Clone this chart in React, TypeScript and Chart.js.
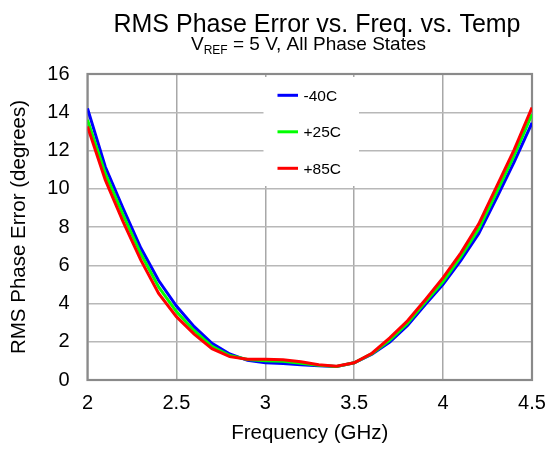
import React, { useEffect, useRef } from "react";
import { Chart, registerables } from "chart.js";

Chart.register(...registerables);

const freqs = [2.0, 2.1, 2.2, 2.3, 2.4, 2.5, 2.6, 2.7, 2.8, 2.9, 3.0, 3.1, 3.2, 3.3, 3.4, 3.5, 3.6, 3.7, 3.8, 3.9, 4.0, 4.1, 4.2, 4.3, 4.4, 4.5];
const minus40 = [14.2, 11.15, 8.98, 6.9, 5.2, 3.87, 2.79, 1.92, 1.36, 1.03, 0.9, 0.86, 0.8, 0.74, 0.7, 0.9, 1.35, 1.98, 2.85, 3.95, 5.0, 6.25, 7.65, 9.5, 11.4, 13.45];
const plus25 = [13.6, 10.8, 8.63, 6.6, 4.87, 3.58, 2.58, 1.76, 1.28, 1.07, 1.0, 0.98, 0.88, 0.77, 0.71, 0.9, 1.38, 2.08, 2.97, 4.08, 5.15, 6.45, 7.9, 9.8, 11.75, 13.9];
const plus85 = [13.25, 10.46, 8.28, 6.27, 4.53, 3.31, 2.4, 1.64, 1.22, 1.08, 1.08, 1.06, 0.95, 0.8, 0.72, 0.9, 1.4, 2.2, 3.1, 4.2, 5.35, 6.65, 8.15, 10.1, 12.05, 14.25];
const seriesLabels = ["-40C", "+25C", "+85C"];
const seriesColors = ["#0000ff", "#00ff00", "#ff0000"];
const xTicks = [2, 2.5, 3, 3.5, 4, 4.5];
const yTicks = [0, 2, 4, 6, 8, 10, 12, 14, 16];

const FONT = '"Liberation Sans", Arial, Helvetica, sans-serif';

const decorPlugin = {
  id: "decor",
  beforeDatasetsDraw(chart: any) {
    const { ctx, chartArea: a } = chart;
    ctx.save();
    ctx.strokeStyle = "#8a8a8a";
    ctx.lineWidth = 2.2;
    ctx.strokeRect(a.left, a.top, a.right - a.left, a.bottom - a.top);
    ctx.restore();
  },
  afterDatasetsDraw(chart: any) {
    const { ctx } = chart;
    ctx.save();
    ctx.fillStyle = "#ffffff";
    ctx.fillRect(263.5, 77, 95.5, 109);
    const ys = [95.3, 131.8, 168.3];
    seriesLabels.forEach((lab, i) => {
      ctx.strokeStyle = seriesColors[i];
      ctx.lineWidth = 3;
      ctx.beginPath();
      ctx.moveTo(277.5, ys[i]);
      ctx.lineTo(298, ys[i]);
      ctx.stroke();
      ctx.fillStyle = "#000";
      ctx.font = `15.5px ${FONT}`;
      ctx.textAlign = "left";
      ctx.textBaseline = "middle";
      ctx.fillText(lab, 303.5, ys[i] + 1);
    });
    ctx.restore();
  },
  afterDraw(chart: any) {
    const { ctx } = chart;
    ctx.save();
    ctx.fillStyle = "#000";
    ctx.textBaseline = "alphabetic";
    ctx.textAlign = "center";
    ctx.font = `25px ${FONT}`;
    ctx.fillText("RMS Phase Error vs. Freq. vs. Temp", 317, 31.5);
    const big = `19px ${FONT}`;
    const small = `12px ${FONT}`;
    const p1 = "V";
    const p2 = "REF";
    const p3 = " = 5 V, All Phase States";
    ctx.font = big;
    const w1 = ctx.measureText(p1).width;
    const w3 = ctx.measureText(p3).width;
    ctx.font = small;
    const w2 = ctx.measureText(p2).width;
    const total = w1 + w2 + w3;
    let x = 308.5 - total / 2;
    ctx.textAlign = "left";
    ctx.font = big;
    ctx.fillText(p1, x, 50);
    x += w1;
    ctx.font = small;
    ctx.fillText(p2, x, 54);
    x += w2;
    ctx.font = big;
    ctx.fillText(p3, x, 50);
    ctx.restore();
  },
};

export default function App() {
  const ref = useRef<HTMLCanvasElement>(null);
  useEffect(() => {
    if (!ref.current) return;
    const mk = (vals: number[]) => freqs.map((f, i) => ({ x: f, y: vals[i] }));
    const chart = new Chart(ref.current, {
      type: "line",
      data: {
        datasets: [
          { label: seriesLabels[0], data: mk(minus40), borderColor: seriesColors[0], backgroundColor: seriesColors[0], borderWidth: 3, pointRadius: 0, tension: 0, order: 2 },
          { label: seriesLabels[1], data: mk(plus25), borderColor: seriesColors[1], backgroundColor: seriesColors[1], borderWidth: 3, pointRadius: 0, tension: 0, order: 1 },
          { label: seriesLabels[2], data: mk(plus85), borderColor: seriesColors[2], backgroundColor: seriesColors[2], borderWidth: 3, pointRadius: 0, tension: 0, order: 0 },
        ],
      },
      options: {
        responsive: false,
        animation: false,
        layout: { padding: { top: 74, right: 16, left: 0, bottom: 0 } },
        plugins: { legend: { display: false }, tooltip: { enabled: false }, title: { display: false } },
        scales: {
          x: {
            type: "linear",
            min: 2,
            max: 4.5,
            afterBuildTicks: (s: any) => { s.ticks = xTicks.map((v) => ({ value: v })); },
            afterFit: (s: any) => { s.height = 71; s.paddingLeft = 0; s.paddingRight = 0; },
            grid: { color: "#a8a8a8", lineWidth: 1.5, drawTicks: false },
            border: { display: false },
            ticks: { color: "#000", padding: 11, font: { family: FONT, size: 20 }, callback: (v: any) => String(v), maxRotation: 0 },
            title: { display: true, text: "Frequency (GHz)", color: "#000", font: { family: FONT, size: 20.5 }, padding: { top: 0, bottom: 5 } },
          },
          y: {
            min: 0,
            max: 16,
            afterBuildTicks: (s: any) => { s.ticks = yTicks.map((v) => ({ value: v })); },
            afterFit: (s: any) => { s.width = 87.5; s.paddingTop = 0; s.paddingBottom = 0; },
            grid: { color: "#b8b8b8", lineWidth: 1.5, drawTicks: false },
            border: { display: false },
            ticks: { color: "#000", padding: 18, font: { family: FONT, size: 20 }, callback: (v: any) => String(v) },
            title: { display: true, text: "RMS Phase Error (degrees)", color: "#000", font: { family: FONT, size: 20.5 }, padding: { top: 7.5, bottom: 0 } },
          },
        },
      },
      plugins: [decorPlugin],
    });
    return () => chart.destroy();
  }, []);
  return (
    <div style={{ position: "absolute", left: 0, top: 0, width: 548, height: 451, background: "#fff" }}>
      <canvas ref={ref} width={548} height={451} style={{ display: "block" }} />
    </div>
  );
}
